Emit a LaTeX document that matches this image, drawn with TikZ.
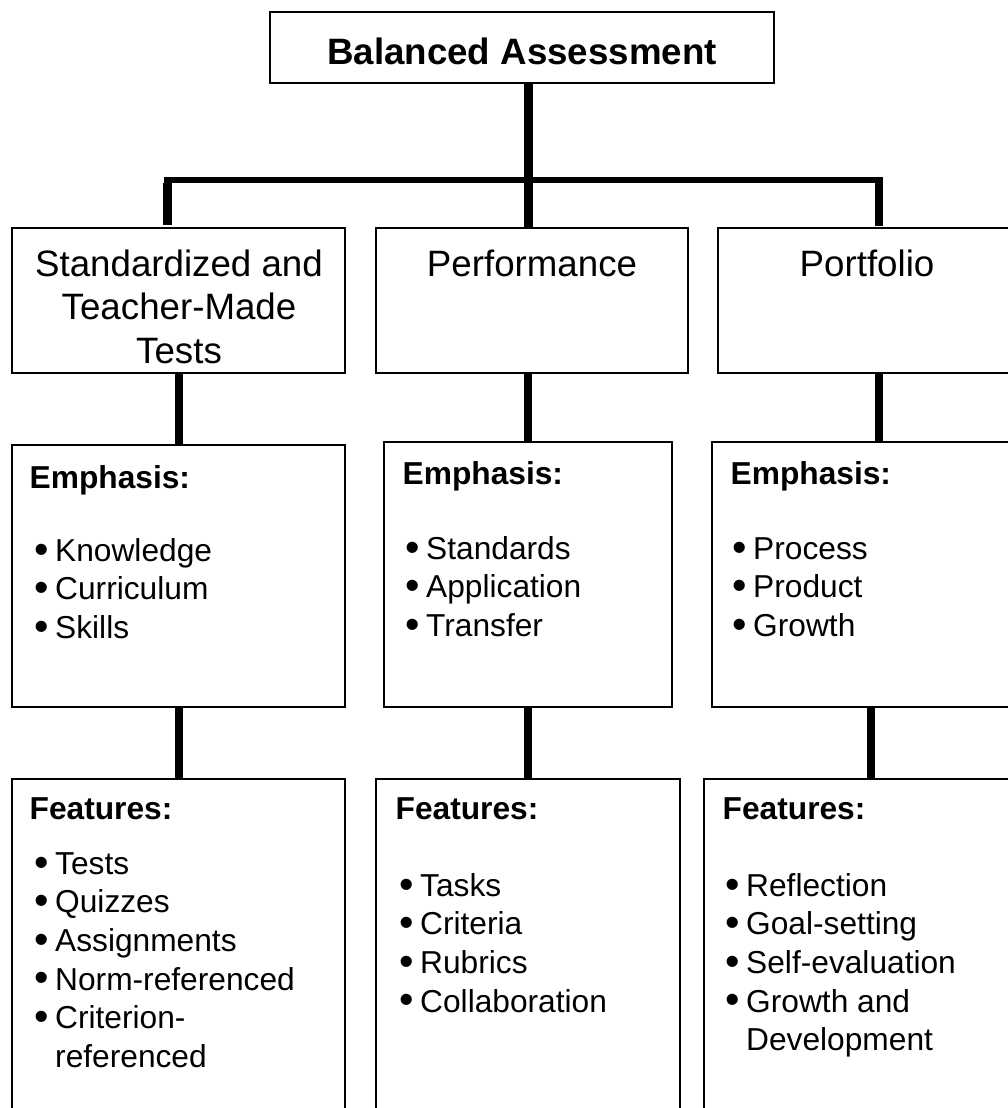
\documentclass[tikz,border=0pt]{standalone}
\usepackage{fontspec}
\setmainfont{Liberation Sans}
\newcommand\bitem[1]{\makebox[22pt][l]{\hspace*{1pt}\raisebox{-1.8pt}{\scalebox{1.3}{•}}}#1}
\newcommand\firststrut{\rule{0pt}{25pt}}
\begin{document}
\begin{tikzpicture}[x=1pt,y=-1pt,
  box/.style={draw=black, line width=1.6pt, anchor=north west, inner sep=0pt, outer sep=0pt, fill=none},
  conn/.style={draw=black, line width=8.5pt},
  barline/.style={draw=black, line width=6pt},
  title/.style={font=\bfseries\fontsize{36.7}{44}\selectfont, anchor=base, inner sep=0pt},
  cat/.style={font=\fontsize{36.7}{43.5}\selectfont, align=center, anchor=north, inner sep=0pt},
  head/.style={font=\bfseries\fontsize{31.7}{38.6}\selectfont, anchor=base west, inner sep=0pt},
  list/.style={font=\fontsize{31.7}{38.6}\selectfont, align=left, anchor=north west, inner sep=0pt}
]
\clip (0,0) rectangle (1008,1108);
\fill[white] (0,0) rectangle (1008,1108);

% boxes
\node[box, minimum width=504pt, minimum height=71pt] (top) at (270,12) {};
\node[box, minimum width=333pt, minimum height=145pt] (l2a) at (12,228) {};
\node[box, minimum width=312pt, minimum height=145pt] (l2b) at (376,228) {};
\node[box, minimum width=300pt, minimum height=145pt] (l2c) at (718,228) {};
\node[box, minimum width=333pt, minimum height=262pt] (l3a) at (12,445) {};
\node[box, minimum width=288pt, minimum height=265pt] (l3b) at (384,442) {};
\node[box, minimum width=304pt, minimum height=265pt] (l3c) at (712,442) {};
\node[box, minimum width=333pt, minimum height=340pt] (l4a) at (12,779) {};
\node[box, minimum width=304pt, minimum height=340pt] (l4b) at (376,779) {};
\node[box, minimum width=312pt, minimum height=340pt] (l4c) at (704,779) {};

% texts
\node[title] (ttop) at (522,65) {Balanced Assessment};
\node[cat] (t2a) at (179,246) {\rule{0pt}{30pt}Standardized and\\Teacher-Made\\Tests};
\node[cat] (t2b) at (532,246) {\rule{0pt}{30pt}Performance};
\node[cat] (t2c) at (867,246) {\rule{0pt}{30pt}Portfolio};

\node[head] (h3a) at (29.5,488) {Emphasis:};
\node[head] (h3b) at (402.5,484) {Emphasis:};
\node[head] (h3c) at (730.5,484) {Emphasis:};
\node[list] (b3a) at (33,536) {\firststrut\bitem{Knowledge}\\\bitem{Curriculum}\\\bitem{Skills}};
\node[list] (b3b) at (404,534) {\firststrut\bitem{Standards}\\\bitem{Application}\\\bitem{Transfer}};
\node[list] (b3c) at (731,534) {\firststrut\bitem{Process}\\\bitem{Product}\\\bitem{Growth}};

\node[head] (h4a) at (29.5,819) {Features:};
\node[head] (h4b) at (395.5,819) {Features:};
\node[head] (h4c) at (722.5,819) {Features:};
\node[list] (b4a) at (33,849) {\firststrut\bitem{Tests}\\\bitem{Quizzes}\\\bitem{Assignments}\\\bitem{Norm-referenced}\\\bitem{Criterion-}\\\hspace*{22pt}referenced};
\node[list] (b4b) at (398,871) {\firststrut\bitem{Tasks}\\\bitem{Criteria}\\\bitem{Rubrics}\\\bitem{Collaboration}};
\node[list] (b4c) at (724,871) {\firststrut\bitem{Reflection}\\\bitem{Goal-setting}\\\bitem{Self-evaluation}\\\bitem{Growth and}\\\hspace*{22pt}Development};

% connectors
\coordinate (hub) at (528.5,180);
\coordinate (barL) at (163.5,180);
\coordinate (barR) at (883,180);
\coordinate (stubL) at (167.5,225);
\coordinate (stubR) at (879,226);
\draw[conn] ([xshift=6.5pt]top.south) -- (hub);
\draw[barline] (barL) -- (barR);
\draw[conn] ([yshift=-3pt]stubL |- hub) -- (stubL);
\draw[conn] ([yshift=-3pt]stubR |- hub) -- (stubR);
\draw[conn] (hub) -- (hub |- l2b.north);

\draw[conn] ([xshift=167pt]l2a.south west) -- ([xshift=167pt]l2a.south west |- l3a.north);
\draw[conn] (l3b.north |- l2b.south) -- (l3b.north);
\draw[conn] ([xshift=161pt]l2c.south west) -- ([xshift=161pt]l2c.south west |- l3c.north);

\draw[conn] ([xshift=167pt]l3a.south west) -- ([xshift=167pt]l3a.south west |- l4a.north);
\draw[conn] (l3b.south) -- (l3b.south |- l4b.north);
\draw[conn] ([xshift=159pt]l3c.south west) -- ([xshift=159pt]l3c.south west |- l4c.north);
\end{tikzpicture}
\end{document}
